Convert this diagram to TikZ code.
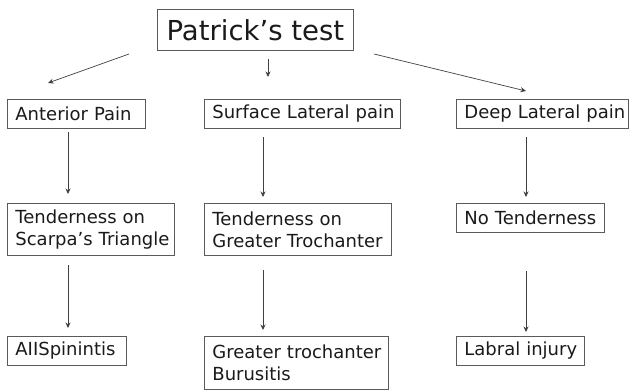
\documentclass[tikz,border=0pt]{standalone}
\usepackage{fontspec}
\setmainfont{DejaVu Sans}
\usetikzlibrary{arrows.meta}
\definecolor{boxgray}{HTML}{5A5A5A}
\definecolor{arrgray}{HTML}{404040}
\definecolor{txt}{HTML}{1A1A1A}
\tikzset{
  box/.style={draw=boxgray, line width=0.8pt, anchor=north west, inner xsep=8pt,
    inner ysep=0pt, align=left, text=txt, font=\fontsize{18}{22}\selectfont},
  arr/.style={draw=arrgray, line width=0.7pt, -{Stealth[length=5.5pt,width=5pt]}}
}
\begin{document}
\begin{tikzpicture}[x=1pt,y=-1pt]
\useasboundingbox (0,0) rectangle (629,390);
% title
\node[draw=boxgray, line width=0.8pt, anchor=north west, minimum width=196pt,
  minimum height=41pt, inner sep=0pt, text=txt, font=\fontsize{27.5}{30}\selectfont]
  (title) at (157,9) {Patrick’s test};
% row 1
\node[box, minimum width=138pt, minimum height=29pt, text width=122pt] (a1) at (7,99) {\mbox{Anterior Pain}};
\node[box, minimum width=196pt, minimum height=29pt, text width=180pt] (b1) at (204,99) {\mbox{Surface Lateral pain}};
\node[box, minimum width=172pt, minimum height=29pt, text width=156pt] (c1) at (456,99) {\mbox{Deep Lateral pain}};
% row 2
\node[box, minimum width=167pt, minimum height=52pt, text width=151pt] (a2) at (7,203) {\mbox{Tenderness on}\\\mbox{Scarpa’s Triangle}};
\node[box, minimum width=187pt, minimum height=52pt, text width=171pt] (b2) at (204,203) {\mbox{Tenderness on}\\\mbox{Greater Trochanter}};
\node[box, minimum width=148pt, minimum height=29pt, text width=132pt] (c2) at (456,203) {\mbox{No Tenderness}};
% row 3
\node[box, minimum width=119pt, minimum height=29pt, text width=103pt] (a3) at (7,336) {\mbox{AIISpinintis}};
\node[box, minimum width=184pt, minimum height=53pt, text width=168pt] (b3) at (204,336) {\mbox{Greater trochanter}\\\mbox{Burusitis}};
\node[box, minimum width=128pt, minimum height=29pt, text width=112pt] (c3) at (456,336) {\mbox{Labral injury}};
% connector end points
\coordinate (t1s) at (129,54);  \coordinate (t1e) at (48,83);
\coordinate (t2s) at (268,59);  \coordinate (t2e) at (268,77);
\coordinate (t3s) at (374,54);  \coordinate (t3e) at (526,91);
\coordinate (a12s) at (68,132);  \coordinate (a12e) at (68,194);
\coordinate (b12s) at (263,137); \coordinate (b12e) at (263,197);
\coordinate (c12s) at (526,137); \coordinate (c12e) at (526,197);
\coordinate (a23s) at (68,265);  \coordinate (a23e) at (68,328);
\coordinate (b23s) at (263,270); \coordinate (b23e) at (263,330);
\coordinate (c23s) at (526,271); \coordinate (c23e) at (526,332);
\draw[arr] (t1s) -- (t1e);
\draw[arr] (t2s) -- (t2e);
\draw[arr] (t3s) -- (t3e);
\draw[arr] (a12s) -- (a12e);
\draw[arr] (b12s) -- (b12e);
\draw[arr] (c12s) -- (c12e);
\draw[arr] (a23s) -- (a23e);
\draw[arr] (b23s) -- (b23e);
\draw[arr] (c23s) -- (c23e);
\end{tikzpicture}
\end{document}
